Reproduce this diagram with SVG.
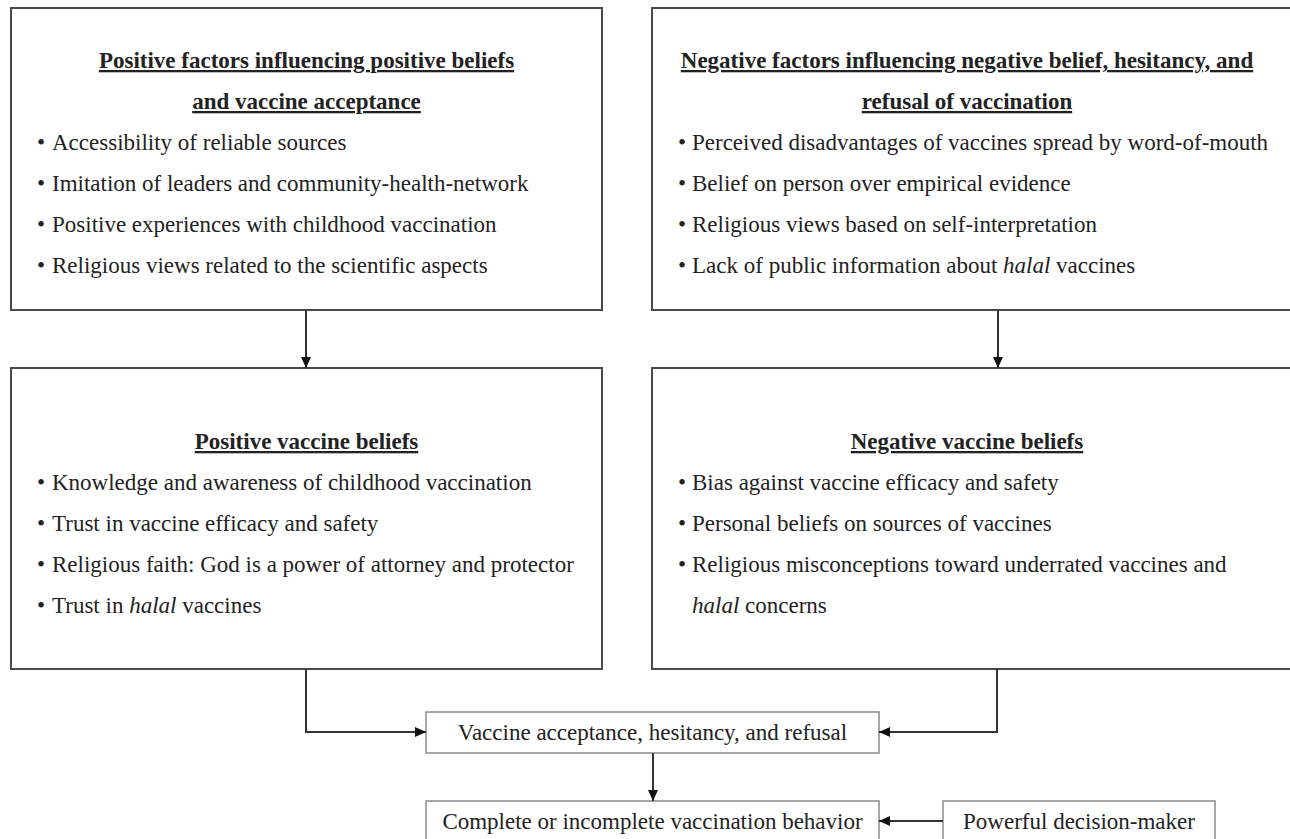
<svg xmlns="http://www.w3.org/2000/svg" width="1290" height="839" viewBox="0 0 1290 839">
<style>
  .big { fill: #ffffff; stroke: #4a4a4a; stroke-width: 2; }
  .small { fill: #ffffff; stroke: #8a8a8a; stroke-width: 1.5; }
  text { font-family: "Liberation Serif", "Times New Roman", serif; font-size: 23px; fill: #222222; }
  .title { font-weight: bold; text-anchor: middle; text-decoration: underline; }
  .mid { text-anchor: middle; }
  .it { font-style: italic; }
  .conn { fill: none; stroke: #333333; stroke-width: 2; }
</style>
<defs>
  <marker id="arr" markerUnits="userSpaceOnUse" markerWidth="11" markerHeight="10" refX="11" refY="5" orient="auto">
    <path d="M0,0 L11,5 L0,10 z" fill="#111111"/>
  </marker>
</defs>
<rect width="1290" height="839" fill="#ffffff"/>

<g id="pos-factors">
  <rect class="big" x="11" y="8" width="591" height="302"/>
  <text class="title" x="306.5" y="68">Positive factors influencing positive beliefs</text>
  <text class="title" x="306.5" y="109">and vaccine acceptance</text>
  <text x="37" y="150">•</text><text x="52" y="150">Accessibility of reliable sources</text>
  <text x="37" y="191">•</text><text x="52" y="191">Imitation of leaders and community-health-network</text>
  <text x="37" y="232">•</text><text x="52" y="232">Positive experiences with childhood vaccination</text>
  <text x="37" y="273">•</text><text x="52" y="273">Religious views related to the scientific aspects</text>
</g>

<g id="neg-factors">
  <rect class="big" x="652" y="8" width="640" height="302"/>
  <text class="title" x="967" y="68">Negative factors influencing negative belief, hesitancy, and</text>
  <text class="title" x="967" y="109">refusal of vaccination</text>
  <text x="678" y="150">•</text><text x="692" y="150">Perceived disadvantages of vaccines spread by word-of-mouth</text>
  <text x="678" y="191">•</text><text x="692" y="191">Belief on person over empirical evidence</text>
  <text x="678" y="232">•</text><text x="692" y="232">Religious views based on self-interpretation</text>
  <text x="678" y="273">•</text><text x="692" y="273">Lack of public information about <tspan class="it">halal</tspan> vaccines</text>
</g>

<g id="pos-beliefs">
  <rect class="big" x="11" y="368" width="591" height="301"/>
  <text class="title" x="306.5" y="449">Positive vaccine beliefs</text>
  <text x="37" y="490">•</text><text x="52" y="490">Knowledge and awareness of childhood vaccination</text>
  <text x="37" y="531">•</text><text x="52" y="531">Trust in vaccine efficacy and safety</text>
  <text x="37" y="572">•</text><text x="52" y="572">Religious faith: God is a power of attorney and protector</text>
  <text x="37" y="613">•</text><text x="52" y="613">Trust in <tspan class="it">halal</tspan> vaccines</text>
</g>

<g id="neg-beliefs">
  <rect class="big" x="652" y="368" width="640" height="301"/>
  <text class="title" x="967" y="449">Negative vaccine beliefs</text>
  <text x="678" y="490">•</text><text x="692" y="490">Bias against vaccine efficacy and safety</text>
  <text x="678" y="531">•</text><text x="692" y="531">Personal beliefs on sources of vaccines</text>
  <text x="678" y="572">•</text><text x="692" y="572">Religious misconceptions toward underrated vaccines and</text>
  <text x="692" y="613"><tspan class="it">halal</tspan> concerns</text>
</g>

<g id="acceptance">
  <rect class="small" x="426" y="712" width="453" height="41"/>
  <text class="mid" x="652.5" y="740">Vaccine acceptance, hesitancy, and refusal</text>
</g>

<g id="behavior">
  <rect class="small" x="426" y="801" width="453" height="45"/>
  <text class="mid" x="652.5" y="829">Complete or incomplete vaccination behavior</text>
</g>

<g id="decision-maker">
  <rect class="small" x="943" y="801" width="272" height="45"/>
  <text class="mid" x="1079" y="829">Powerful decision-maker</text>
</g>

<g id="connectors">
  <path class="conn" d="M306,310 V368" marker-end="url(#arr)"/>
  <path class="conn" d="M998,310 V368" marker-end="url(#arr)"/>
  <path class="conn" d="M306,669 V732 H426" marker-end="url(#arr)"/>
  <path class="conn" d="M997,669 V732 H879" marker-end="url(#arr)"/>
  <path class="conn" d="M653,753 V801" marker-end="url(#arr)"/>
  <path class="conn" d="M943,821 H879" marker-end="url(#arr)"/>
</g>
</svg>
